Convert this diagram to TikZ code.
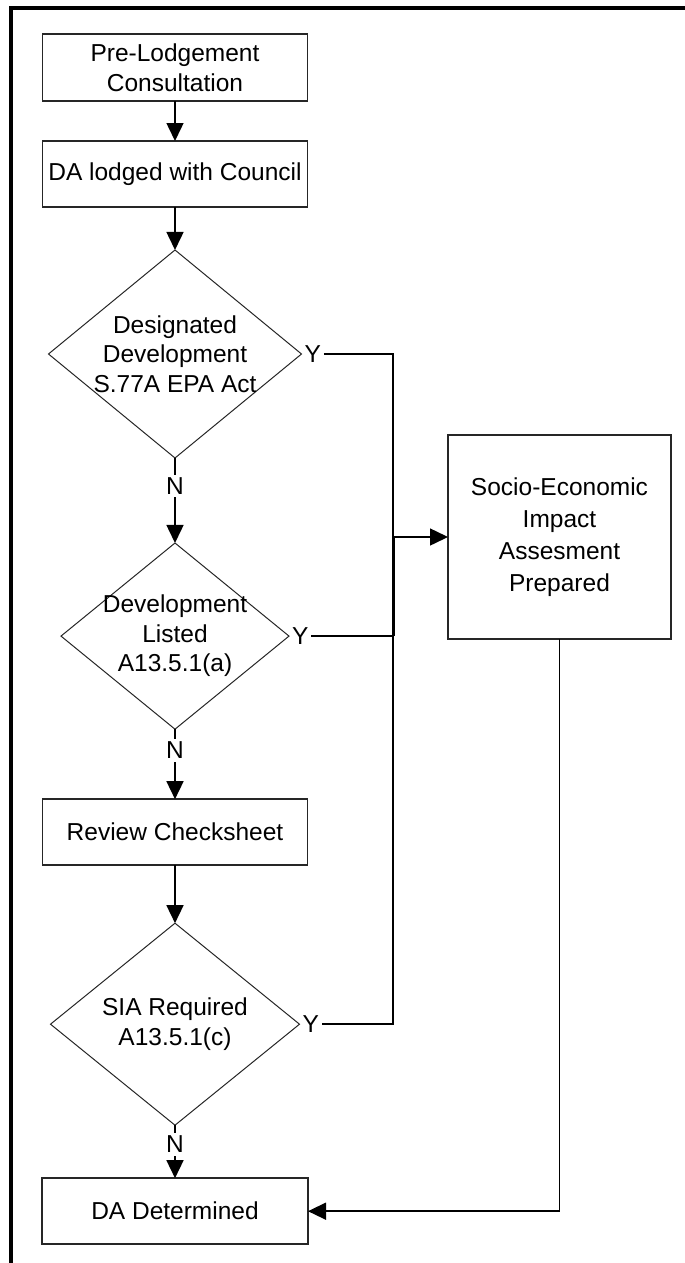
\documentclass[tikz,border=0pt]{standalone}
\usepackage{fontspec}
\setmainfont{Liberation Sans}
\usetikzlibrary{positioning,shapes.geometric,arrows.meta}

\begin{document}
\begin{tikzpicture}[x=1pt, y=1pt, font=\fontsize{24.5}{29.5}\selectfont,
  every node/.style={align=center, outer sep=0pt},
  process/.style={draw=black!85, line width=1.7pt, rectangle, minimum width=265pt, minimum height=66pt, inner sep=2pt},
  decision/.style={draw=black!85, line width=1pt, diamond, inner sep=-10pt},
  answer/.style={inner sep=3pt},
  flow/.style={line width=1.5pt, -{Triangle[length=18pt, width=17pt]}},
  link/.style={line width=1.5pt}]

\useasboundingbox (0,0) rectangle (685,-1263);

% Frame
\draw[line width=4pt] (11,-1263) -- (11,-8) -- (685,-8);

% Nodes
\node (prelodge) [process, minimum height=67pt] at (175,-67.5) {Pre-Lodgement\\Consultation};
\node (lodged) [process, below=40pt of prelodge] {DA lodged with Council};
\node (designated) [decision, minimum width=253pt, minimum height=208pt, below=43pt of lodged] {Designated\\Development\\S.77A EPA Act};
\node (listed) [decision, minimum width=228pt, minimum height=184pt, below=85pt of designated] {Development\\Listed\\A13.5.1(a)};
\node (review) [process, below=70pt of listed] {Review Checksheet};
\node (sia) [decision, minimum width=249pt, minimum height=202pt, below=58pt of review] {SIA Required\\A13.5.1(c)};
\node (determined) [process, minimum width=266pt, below=53pt of sia] {DA Determined};
\node (socio) [process, minimum width=223pt, minimum height=204pt, font=\fontsize{24.5}{32}\selectfont] at (559.5,-537) {Socio-Economic\\Impact\\Assesment\\Prepared};

% Answers
\node (ydesignated) [answer, right=0pt of designated] {Y};
\node (ylisted) [answer, right=0pt of listed] {Y};
\node (ysia) [answer, right=0pt of sia] {Y};
\coordinate (bus) at (393,-537);

% Arrows
\draw[flow] (prelodge) -- (lodged);
\draw[flow] (lodged) -- (designated);
\draw[flow] (designated) -- node[pos=0.33, fill=white, inner sep=3pt] {N} (listed);
\draw[flow] (listed) -- node[pos=0.3, fill=white, inner sep=3pt] {N} (review);
\draw[flow] (review) -- (sia);
\draw[flow] (sia) -- node[pos=0.36, fill=white, inner sep=3pt] {N} (determined);

\draw[link] (ydesignated.east) -- (ydesignated.east -| bus) -- (ysia.east -| bus) -- (ysia.east);
\draw[link] (ylisted.east) -- (ylisted.east -| bus);
\draw[line width=3pt] (socio.west -| bus) -- (ylisted.east -| bus);
\draw[flow] (socio.west -| bus) -- (socio.west);
\draw[flow] (socio.south) |- (determined.east);

\end{tikzpicture}
\end{document}
